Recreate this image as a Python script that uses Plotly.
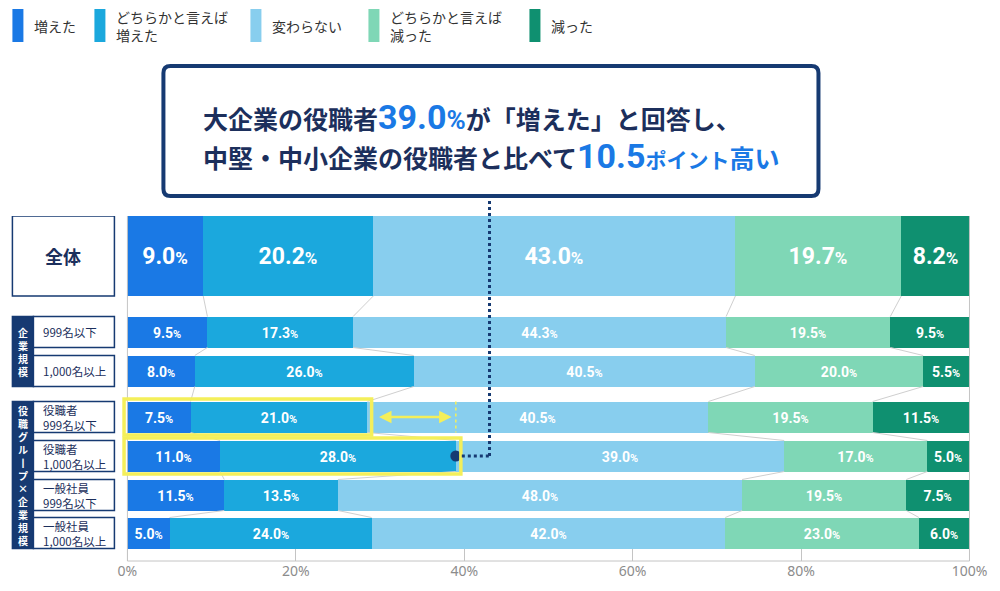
import plotly.graph_objects as go

# row labels, top to bottom
rows = ["全体", "企業規模 999名以下", "企業規模 1,000名以上",
        "役職者 999名以下", "役職者 1,000名以上",
        "一般社員 999名以下", "一般社員 1,000名以上"]

categories = ["増えた", "どちらかと言えば<br>増えた", "変わらない",
              "どちらかと言えば<br>減った", "減った"]

increased = [9.0, 9.5, 8.0, 7.5, 11.0, 11.5, 5.0]
rather_increased = [20.2, 17.3, 26.0, 21.0, 28.0, 13.5, 24.0]
unchanged = [43.0, 44.3, 40.5, 40.5, 39.0, 48.0, 42.0]
rather_decreased = [19.7, 19.5, 20.0, 19.5, 17.0, 19.5, 23.0]
decreased = [8.2, 9.5, 5.5, 11.5, 5.0, 7.5, 6.0]

tick_vals = [0, 20, 40, 60, 80, 100]
tick_text = ["0%", "20%", "40%", "60%", "80%", "100%"]

series = [increased, rather_increased, unchanged, rather_decreased, decreased]
colors = ["#1a79e5", "#1ba8dd", "#88ceee", "#7fd7b6", "#0f9070"]

NAVY = "#163a72"
TEXT_NAVY = "#1c2f5c"
YELLOW = "#f4ef5a"
NUM_FONT = "Roboto, sans-serif"
JP_FONT = "'Noto Sans CJK JP', 'Noto Sans', sans-serif"

# page geometry (pixels)
W, H = 1000, 591
X_MIN, X_MAX = -1, 100.3
px0, px100 = 127, 969
scale = (px100 - px0) / 100
ml = px0 + X_MIN * scale
mr = W - (px0 + X_MAX * scale)
mt, mb = 216, 30
plot_w = W - ml - mr
plot_h = H - mt - mb

# row centres / heights in pixel units of the y axis
row_y = [256, 332, 371, 417, 456, 495, 533]
row_h = [80, 31, 31, 31, 31, 31, 31]


def px_x(p):
    return (p - ml) / plot_w


def px_y(p):
    return 1 - (p - mt) / plot_h


def pct_text(v, big):
    s1, s2 = (23, 17) if big else (14, 11)
    return f"{v:.1f}<span style='font-size:{s2}px'>%</span>", s1


fig = go.Figure()

for name, vals, col in zip(categories, series, colors):
    texts, sizes = [], []
    for i, v in enumerate(vals):
        t, s = pct_text(v, i == 0)
        texts.append(t)
        sizes.append(s)
    fig.add_trace(go.Bar(
        x=vals, y=row_y, width=row_h, orientation="h", name=name,
        marker=dict(color=col, line=dict(width=0)),
        text=texts, textposition="inside", insidetextanchor="middle",
        constraintext="none",
        textfont=dict(family=NUM_FONT, size=sizes, color="white", weight="bold"),
        hoverinfo="skip", showlegend=False,
    ))

# cumulative boundaries
cums = []
for i in range(len(rows)):
    c, acc = [], 0
    for s in series:
        acc += s[i]
        c.append(acc)
    cums.append(c)

# thin connector lines between segment boundaries of neighbouring rows
cx, cy = [], []
for i in range(len(rows) - 1):
    for k in range(4):
        cx += [cums[i][k], cums[i + 1][k], None]
        cy += [row_y[i] + row_h[i] / 2, row_y[i + 1] - row_h[i + 1] / 2, None]
fig.add_trace(go.Scatter(x=cx, y=cy, mode="lines",
                         line=dict(color="#cfcfcf", width=1),
                         hoverinfo="skip", showlegend=False))

shapes = []
annotations = []

# plot frame
for xv in (0, 100):
    shapes.append(dict(type="line", xref="x", yref="paper", x0=xv, x1=xv, y0=0, y1=1,
                       line=dict(color="#c4c4c4", width=1)))
shapes.append(dict(type="line", xref="x", yref="paper", x0=0, x1=100, y0=0, y1=0,
                   line=dict(color="#c4c4c4", width=1)))

# highlight boxes (役職者 rows)
hl = [(3, cums[3][1] + 0.5), (4, cums[4][1] + 0.6)]
for r, xe in hl:
    shapes.append(dict(type="rect", xref="x", yref="y", x0=-0.4, x1=xe,
                       y0=row_y[r] - row_h[r] / 2 - 2.5, y1=row_y[r] + row_h[r] / 2 + 2.5,
                       line=dict(color=YELLOW, width=3.5)))

# dashed yellow marker at 39.0% on the 999名以下 row and the gap arrow
x39 = cums[4][1]
shapes.append(dict(type="line", xref="x", yref="y", x0=x39, x1=x39,
                   y0=row_y[3] - row_h[3] / 2, y1=row_y[3] + row_h[3] / 2,
                   line=dict(color=YELLOW, width=1.5, dash="dot")))
annotations.append(dict(x=x39 - 0.5, y=row_y[3], ax=cums[3][1] + 1.2, ay=row_y[3],
                        xref="x", yref="y", axref="x", ayref="y", text="",
                        showarrow=True, arrowhead=2, startarrowhead=2,
                        arrowside="end+start", arrowsize=1, startarrowsize=1,
                        arrowwidth=2.5, arrowcolor=YELLOW))

# callout box
bx0, bx1, by0, by1, rad = 163, 818, 66, 196, 7
pts = [
    ("M", bx0 + rad, by0), ("L", bx1 - rad, by0), ("Q", bx1, by0, bx1, by0 + rad),
    ("L", bx1, by1 - rad), ("Q", bx1, by1, bx1 - rad, by1), ("L", bx0 + rad, by1),
    ("Q", bx0, by1, bx0, by1 - rad), ("L", bx0, by0 + rad), ("Q", bx0, by0, bx0 + rad, by0),
]
path = ""
for p in pts:
    cmd = p[0]
    coords = p[1:]
    seg = []
    for j in range(0, len(coords), 2):
        seg.append(f"{px_x(coords[j]):.5f},{px_y(coords[j + 1]):.5f}")
    path += cmd + " ".join(seg) + " "
path += "Z"
shapes.append(dict(type="path", xref="paper", yref="paper", path=path,
                   fillcolor="white", line=dict(color=NAVY, width=4)))

# dotted leader from callout to the 39.0% bar end
x_lead = 43
shapes.append(dict(type="line", xref="x", yref="paper", x0=x_lead, x1=x_lead,
                   y0=px_y(by1 + 5), y1=px_y(row_y[4]),
                   line=dict(color=NAVY, width=3, dash="dot")))
shapes.append(dict(type="line", xref="x", yref="y", x0=x39, x1=x_lead,
                   y0=row_y[4], y1=row_y[4],
                   line=dict(color=NAVY, width=3, dash="dot")))
fig.add_trace(go.Scatter(x=[x39], y=[row_y[4]], mode="markers",
                         marker=dict(color=NAVY, size=11),
                         hoverinfo="skip", showlegend=False))

blue = colors[0]
line1 = ("大企業の役職者"
         f"<span style=\"font-family:Roboto;font-size:34px;color:{blue}\">39.0</span>"
         f"<span style=\"font-family:Roboto;font-size:26px;color:{blue}\">%</span>"
         "が「増えた」と回答し、")
line2 = ("中堅・中小企業の役職者と比べて"
         f"<span style=\"font-family:Roboto;font-size:34px;color:{blue}\">10.5</span>"
         f"<span style=\"font-size:21px;color:{blue}\">ポイント</span>"
         f"<span style=\"color:{blue}\">高い</span>")
for txt, yy in ((line1, 117), (line2, 156)):
    annotations.append(dict(text=txt, xref="paper", yref="paper", x=px_x(201), y=px_y(yy),
                            xanchor="left", yanchor="middle", showarrow=False, align="left",
                            font=dict(family=JP_FONT, size=25, color=TEXT_NAVY, weight="bold")))

# legend
leg_x = [12, 94, 250, 368, 529]
for name, col, lx in zip(categories, colors, leg_x):
    shapes.append(dict(type="rect", xref="paper", yref="paper",
                       x0=px_x(lx), x1=px_x(lx + 11), y0=px_y(9), y1=px_y(42),
                       fillcolor=col, line=dict(width=0)))
    annotations.append(dict(text=name, xref="paper", yref="paper", x=px_x(lx + 20), y=px_y(26),
                            xanchor="left", yanchor="middle", showarrow=False, align="left",
                            font=dict(family=JP_FONT, size=14, color="#333333")))

# left label column
lab_x0, band_x1, lab_x1 = 12, 33, 114
shapes.append(dict(type="rect", xref="paper", yref="y", x0=px_x(lab_x0), x1=px_x(lab_x1),
                   y0=row_y[0] - row_h[0] / 2, y1=row_y[0] + row_h[0] / 2,
                   fillcolor="white", line=dict(color=NAVY, width=1.5)))
annotations.append(dict(text="全体", xref="paper", yref="y", x=px_x((lab_x0 + lab_x1) / 2),
                        y=row_y[0], xanchor="center", yanchor="middle", showarrow=False,
                        font=dict(family=JP_FONT, size=18, color=TEXT_NAVY, weight="bold")))

groups = [("企業規模", [1, 2]), ("役職グループ×企業規模", [3, 4, 5, 6])]
sub_labels = ["", "999名以下", "1,000名以上", "役職者<br>999名以下", "役職者<br>1,000名以上",
              "一般社員<br>999名以下", "一般社員<br>1,000名以上"]
for gname, idx in groups:
    top = row_y[idx[0]] - row_h[idx[0]] / 2
    bot = row_y[idx[-1]] + row_h[idx[-1]] / 2
    shapes.append(dict(type="rect", xref="paper", yref="y", x0=px_x(lab_x0), x1=px_x(band_x1),
                       y0=top, y1=bot, fillcolor=NAVY, line=dict(color=NAVY, width=1.5)))
    # vertical writing: one character per line
    vert = "<br>".join(list(gname.replace("ー", "丨")))
    annotations.append(dict(text=vert, xref="paper", yref="y", x=px_x((lab_x0 + band_x1) / 2),
                            y=(top + bot) / 2, xanchor="center", yanchor="middle",
                            showarrow=False, align="center", borderpad=0,
                            font=dict(family=JP_FONT, size=10, color="white", weight="bold")))
    for r in idx:
        shapes.append(dict(type="rect", xref="paper", yref="y", x0=px_x(band_x1), x1=px_x(lab_x1),
                           y0=row_y[r] - row_h[r] / 2, y1=row_y[r] + row_h[r] / 2,
                           fillcolor="white", line=dict(color=NAVY, width=1.5)))
        annotations.append(dict(text=sub_labels[r], xref="paper", yref="y", x=px_x(41),
                                y=row_y[r], xanchor="left", yanchor="middle",
                                showarrow=False, align="left",
                                font=dict(family=JP_FONT, size=11.5, color=TEXT_NAVY)))

fig.update_layout(
    width=W, height=H,
    margin=dict(l=ml, r=mr, t=mt, b=mb, pad=0),
    barmode="stack", bargap=0,
    plot_bgcolor="white", paper_bgcolor="white",
    shapes=shapes, annotations=annotations,
    xaxis=dict(range=[X_MIN, X_MAX], tickvals=tick_vals, ticktext=tick_text,
               showgrid=False, zeroline=False, showline=False,
               ticks="inside", ticklen=12, tickcolor="#c4c4c4", tickwidth=1,
               tickfont=dict(family="'Noto Sans', sans-serif", size=14, color="#8c8c8c")),
    yaxis=dict(range=[561, 216], visible=False, fixedrange=True),
    showlegend=False,
)

fig.write_html("out.html", config={"displayModeBar": False},
               post_script="document.body.style.margin='0';")
